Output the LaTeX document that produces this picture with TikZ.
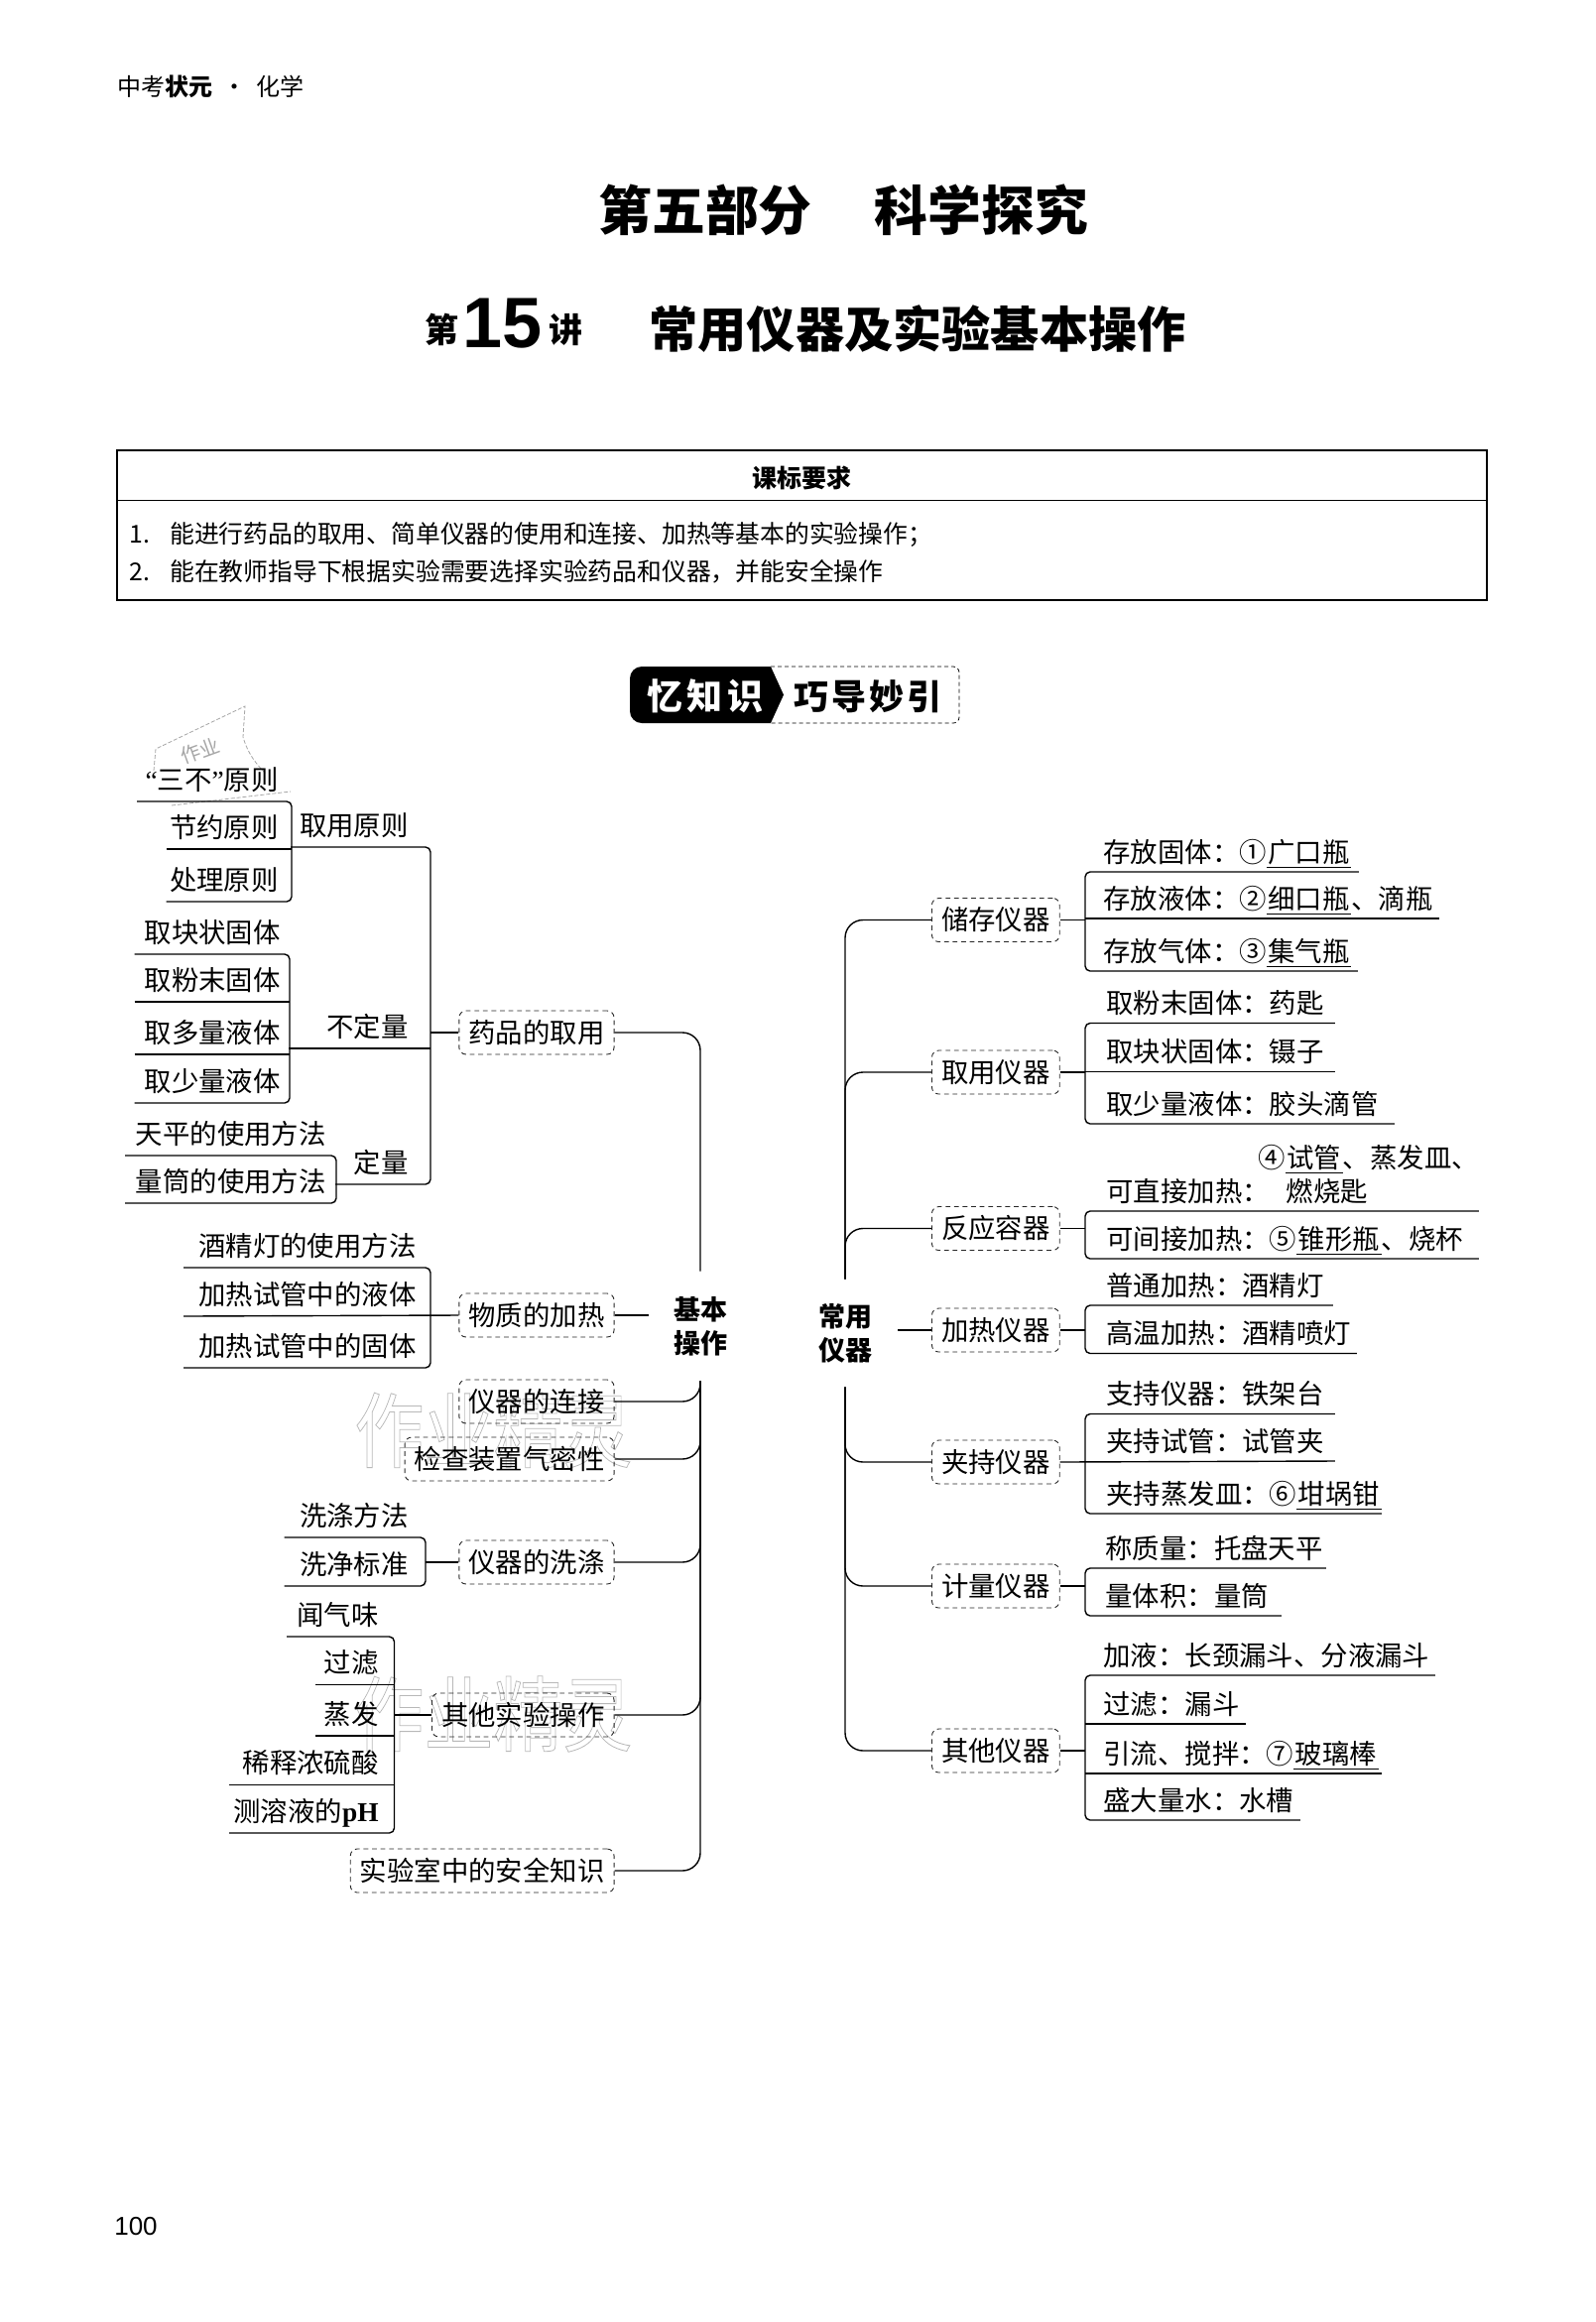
\documentclass[tikz,border=0pt]{standalone}
\usepackage{graphicx}
\usepackage{fontspec}
\setmainfont{Noto Sans CJK SC}
\newfontfamily\latinfont{Liberation Serif}
\newfontfamily\arialfont{Liberation Sans}
\newcommand{\fillin}[1]{$\underline{\hbox{\kern0.8pt #1\kern0.8pt}}$}
\newcommand{\bodysize}{\fontsize{13.7pt}{16pt}\selectfont}
\newcommand{\outlined}[1]{\special{pdf:code q 1 Tr 0.35 w 0.72 G}\scalebox{1}[1.18]{#1}\special{pdf:code Q}}

\begin{document}
\begin{tikzpicture}[
    x=0.5pt, y=-0.5pt,
    lrow/.style 2 args={anchor=south east, text width=\dimexpr #1pt/2\relax, inner sep=0pt, minimum height=22pt, align=right, font=\bodysize, text height=12pt, text depth=1.6pt, execute at end node={\hspace*{\dimexpr #2pt/2\relax}}},
    rrow/.style 2 args={anchor=south west, text width=\dimexpr #1pt/2\relax, inner sep=0pt, minimum height=20pt, align=left, font=\bodysize, text height=12pt, text depth=1.6pt, execute at begin node={\hspace*{\dimexpr #2pt/2\relax}}},
    opbox/.style={draw=black!85, line width=0.45pt, dash pattern=on 2.4pt off 1.9pt, rounded corners=3.5pt, minimum height=22pt, inner xsep=4.8pt, inner ysep=0pt, font=\bodysize, text height=12pt, text depth=1.6pt},
    headnode/.style={align=center, inner sep=0pt, font=\fontsize{13.5pt}{17pt}\selectfont\bfseries},
    rule/.style={line width=0.7pt},
    bracket/.style={line width=0.7pt, rounded corners=2.5pt},
    trunk/.style={line width=0.7pt, rounded corners=9pt},
    watermark/.style={inner sep=0pt, font=\fontsize{35pt}{40pt}\selectfont},
    stampline/.style={draw=black!35, line width=0.4pt, dash pattern=on 2pt off 1pt}
]
\useasboundingbox (0,0) rectangle (1609,2341);

% faint marks under the page
\node[watermark, anchor=west] (markone) at (357,1442) {\outlined{作业精灵}};
\node[watermark, anchor=west] (marktwo) at (357,1728) {\outlined{作业精灵}};
\draw[stampline] (155,777) -- (157,755) -- (247,712) -- (245,743) .. controls (250,760) and (258,770) .. (268,780);
\draw[stampline] (173,812) -- (293,798);
\node[color=black!35, rotate=20, inner sep=0pt, font=\fontsize{10pt}{11pt}\selectfont] (markthree) at (202,757) {作业};

% page head
\node[anchor=west, inner sep=0pt, font=\fontsize{12pt}{14pt}\selectfont] (series) at (118,87) {中考\textbf{状元}\hspace{5pt}·\hspace{5pt}化学};
\node[anchor=west, inner sep=0pt, font=\fontsize{26.9pt}{30pt}\selectfont\bfseries] (part) at (603,212) {第五部分\hspace{31.5pt}科学探究};
\node[anchor=base west, inner sep=0pt, font=\fontsize{17pt}{20pt}\selectfont\bfseries] (lesson) at (428,350.7) {\raisebox{2.7pt}{第}\kern2pt{\arialfont\fontsize{36pt}{40pt}\selectfont\bfseries 15}\kern3.5pt\raisebox{2.7pt}{讲}};
\node[anchor=west, inner sep=0pt, font=\fontsize{24.6pt}{28pt}\selectfont\bfseries] (lessontitle) at (654,332) {常用仪器及实验基本操作};

% requirement box
\node[draw, line width=1pt, minimum width=690.5pt, minimum height=75.5pt, inner sep=0pt] (req) at (808.5,529.5) {};
\node[anchor=north, minimum width=690.5pt, minimum height=25.5pt, inner sep=0pt, text height=13pt, text depth=0pt, font=\fontsize{12.5pt}{14pt}\selectfont\bfseries] (reqhead) at (req.north) {课标要求};
\draw[line width=0.45pt] (reqhead.south west) -- (reqhead.south east);
\node[anchor=west, inner sep=0pt, font=\fontsize{12.4pt}{14pt}\selectfont] (reqone) at (130,539) {\makebox[20.5pt][l]{1.}能进行药品的取用、简单仪器的使用和连接、加热等基本的实验操作；};
\node[anchor=west, inner sep=0pt, font=\fontsize{12.4pt}{14pt}\selectfont] (reqtwo) at (130,576) {\makebox[20.5pt][l]{2.}能在教师指导下根据实验需要选择实验药品和仪器，并能安全操作};

% badge
\fill[black] (777,672) -- (790,700.5) -- (777,729) [rounded corners=6pt] -- (635,729) -- (635,672) [sharp corners] -- cycle;
\draw[line width=0.4pt, dash pattern=on 2pt off 1.5pt, rounded corners=3pt] (777,672) -- (967,672) -- (967,729) -- (777,729);
\node[color=white, inner sep=0pt, font=\fontsize{18pt}{20pt}\selectfont\bfseries\addfontfeature{LetterSpace=13}] (badgeleft) at (711,702) {忆知识};
\node[inner sep=0pt, font=\fontsize{17.5pt}{20pt}\selectfont\bfseries\addfontfeature{LetterSpace=8}] (badgeright) at (875,702) {巧导妙引};

% left tree
\node[headnode, minimum width=52pt, minimum height=55pt] (jiben) at (706,1337) {基本\\操作};
\node[opbox, anchor=east] (yaopin) at (619.5,1041) {药品的取用};
\node[opbox, anchor=east] (jiare) at (619.5,1326) {物质的加热};
\node[opbox, anchor=east] (lianjie) at (619.5,1413) {仪器的连接};
\node[opbox, anchor=east] (qimi) at (619.5,1471) {检查装置气密性};
\node[opbox, anchor=east] (xidi) at (619.5,1575) {仪器的洗涤};
\node[opbox, anchor=east] (qita) at (619.5,1729) {其他实验操作};
\node[opbox, anchor=east] (anquan) at (619.5,1886) {实验室中的安全知识};
\draw[trunk] (yaopin.east) -| (jiben.north);
\draw[rule] (jiare.east) -- (jiare.east -| jiben.west);
\draw[trunk] (lianjie.east) -| (jiben.south);
\draw[trunk] (qimi.east) -| (jiben.south);
\draw[trunk] (xidi.east) -| (jiben.south);
\draw[trunk] (qita.east) -| (jiben.south);
\draw[trunk] (anquan.east) -| (jiben.south);

\node[lrow={140}{22}] (quyong) at (434,854) {取用原则};
\node[lrow={142}{22}] (buding) at (434,1057) {不定量};
\node[lrow={95}{22}] (dingliang) at (434,1194) {定量};
\draw[bracket] (quyong.south west) -- (quyong.south east) -- (dingliang.south east) -- (dingliang.south west);
\draw[rule] (buding.south west) -- (buding.south east);
\draw[rule] (yaopin.west) -- (yaopin.west -| quyong.south east);

\node[lrow={155}{13}] (sanbu) at (294,808) {{\latinfont “}三不{\latinfont ”}原则};
\node[lrow={125.5}{13}] (jieyue) at (294,856) {节约原则};
\node[lrow={125.5}{13}] (chuli) at (294,909) {处理原则};
\draw[bracket] (sanbu.south west) -- (sanbu.south east) -- (chuli.south east) -- (chuli.south west);
\draw[rule] (jieyue.south west) -- (jieyue.south east);

\node[lrow={155.5}{9}] (kuai) at (292,962) {取块状固体};
\node[lrow={155.5}{9}] (fen) at (292,1010) {取粉末固体};
\node[lrow={155.5}{9}] (duo) at (292,1063) {取多量液体};
\node[lrow={155.5}{9}] (shao) at (292,1112) {取少量液体};
\draw[bracket] (kuai.south west) -- (kuai.south east) -- (shao.south east) -- (shao.south west);
\draw[rule] (fen.south west) -- (fen.south east);
\draw[rule] (duo.south west) -- (duo.south east);

\node[lrow={212}{10}] (tianping) at (339,1165) {天平的使用方法};
\node[lrow={212}{10}] (liangtong) at (339,1213) {量筒的使用方法};
\draw[bracket] (tianping.south west) -- (tianping.south east) -- (liangtong.south east) -- (liangtong.south west);

\node[lrow={248}{14}] (deng) at (434,1278) {酒精灯的使用方法};
\node[lrow={248}{14}] (yeti) at (434,1327) {加热试管中的液体};
\node[lrow={248}{14}] (guti) at (434,1379) {加热试管中的固体};
\draw[bracket] (deng.south west) -- (deng.south east) -- (guti.south east) -- (guti.south west);
\draw[rule] (yeti.south west) -- (jiare.west);

\node[lrow={141.5}{17}] (fangfa) at (429,1550) {洗涤方法};
\node[lrow={141.5}{17}] (biaozhun) at (429,1599) {洗净标准};
\draw[bracket] (fangfa.south west) -- (fangfa.south east) -- (biaozhun.south east) -- (biaozhun.south west);
\draw[rule] (xidi.west) -- (xidi.west -| fangfa.south east);

\node[lrow={107.5}{15.5}] (wen) at (397.5,1650) {闻气味};
\node[lrow={78.8}{15.5}] (guolv) at (397.5,1698.5) {过滤};
\node[lrow={78.8}{15.5}] (zhengfa) at (397.5,1750) {蒸发};
\node[lrow={165.5}{15.5}] (xishi) at (397.5,1799.5) {稀释浓硫酸};
\node[lrow={165.5}{15.5}] (ceph) at (397.5,1848) {测溶液的{\latinfont\bfseries pH}};
\draw[bracket] (wen.south west) -- (wen.south east) -- (ceph.south east) -- (ceph.south west);
\draw[rule] (guolv.south west) -- (guolv.south east);
\draw[rule] (zhengfa.south west) -- (zhengfa.south east);
\draw[rule] (xishi.south west) -- (xishi.south east);
\draw[rule] (qita.west) -- (qita.west -| wen.south east);

% right tree
\node[headnode, minimum width=53pt, minimum height=54pt] (changyong) at (852,1344) {常用\\仪器};
\node[opbox, anchor=west] (chucun) at (939,927.5) {储存仪器};
\node[opbox, anchor=west] (quyongyi) at (939,1081) {取用仪器};
\node[opbox, anchor=west] (fanying) at (939,1238.5) {反应容器};
\node[opbox, anchor=west] (jiareyi) at (939,1341) {加热仪器};
\node[opbox, anchor=west] (jiachi) at (939,1474) {夹持仪器};
\node[opbox, anchor=west] (jiliang) at (939,1599) {计量仪器};
\node[opbox, anchor=west] (qitayi) at (939,1765) {其他仪器};
\draw[trunk] (chucun.west) -| (changyong.north);
\draw[trunk] (quyongyi.west) -| (changyong.north);
\draw[trunk] (fanying.west) -| (changyong.north);
\draw[rule] (jiareyi.west -| changyong.east) -- (jiareyi.west);
\draw[trunk] (jiachi.west) -| (changyong.south);
\draw[trunk] (jiliang.west) -| (changyong.south);
\draw[trunk] (qitayi.west) -| (changyong.south);

\node[rrow={275}{18}] (cunone) at (1094,879) {存放固体：①\fillin{广口瓶}};
\node[rrow={356}{18}] (cuntwo) at (1094,926) {存放液体：②\fillin{细口瓶}、滴瓶};
\node[rrow={274}{18}] (cunthree) at (1094,979) {存放气体：③\fillin{集气瓶}};
\draw[bracket] (cunone.south east) -- (cunone.south west) -- (cunthree.south west) -- (cunthree.south east);
\draw[rule] (cuntwo.south west) -- (cuntwo.south east);
\draw[rule] (chucun.east) -- (chucun.east -| cunone.south west);

\node[rrow={251}{21}] (quone) at (1094,1031.5) {取粉末固体：药匙};
\node[rrow={251}{21}] (qutwo) at (1094,1080.5) {取块状固体：镊子};
\node[rrow={311}{21}] (quthree) at (1094,1133) {取少量液体：胶头滴管};
\draw[bracket] (quone.south east) -- (quone.south west) -- (quthree.south west) -- (quthree.south east);
\draw[rule] (qutwo.south west) -- (qutwo.south east);
\draw[rule] (quyongyi.east) -- (quyongyi.east -| quone.south west);

\node[anchor=west, inner sep=0pt, font=\bodysize] (fanup) at (1268,1169) {④\fillin{试管}、蒸发皿、};
\node[rrow={396}{21}] (fanone) at (1094,1221) {可直接加热：\hspace{8.5pt}燃烧匙};
\node[rrow={396}{21}] (fantwo) at (1094,1269) {可间接加热：⑤\fillin{锥形瓶}、烧杯};
\draw[bracket] (fanone.south east) -- (fanone.south west) -- (fantwo.south west) -- (fantwo.south east);
\draw[rule] (fanying.east) -- (fanying.east -| fanone.south west);

\node[rrow={249}{21}] (reone) at (1094,1316) {普通加热：酒精灯};
\node[rrow={273}{21}] (retwo) at (1094,1364.5) {高温加热：酒精喷灯};
\draw[bracket] (reone.south east) -- (reone.south west) -- (retwo.south west) -- (retwo.south east);
\draw[rule] (jiareyi.east) -- (jiareyi.east -| reone.south west);

\node[rrow={251}{21}] (jiaone) at (1094,1425.5) {支持仪器：铁架台};
\node[rrow={251}{21}] (jiatwo) at (1094,1473) {夹持试管：试管夹};
\node[rrow={298}{21}] (jiathree) at (1094,1526) {夹持蒸发皿：⑥\fillin{坩埚钳}};
\draw[bracket] (jiaone.south east) -- (jiaone.south west) -- (jiathree.south west) -- (jiathree.south east);
\draw[rule] (jiachi.east) -- (jiatwo.south east);

\node[rrow={242}{20}] (jione) at (1094,1581) {称质量：托盘天平};
\node[rrow={197}{20}] (jitwo) at (1094,1629) {量体积：量筒};
\draw[bracket] (jione.south east) -- (jione.south west) -- (jitwo.south west) -- (jitwo.south east);
\draw[rule] (jiliang.east) -- (jiliang.east -| jione.south west);

\node[rrow={352}{18}] (qione) at (1094,1689) {加液：长颈漏斗、分液漏斗};
\node[rrow={161.5}{18}] (qitwo) at (1094,1738) {过滤：漏斗};
\node[rrow={298}{18}] (qithree) at (1094,1788) {引流、搅拌：⑦\fillin{玻璃棒}};
\node[rrow={216}{18}] (qifour) at (1094,1835) {盛大量水：水槽};
\draw[bracket] (qione.south east) -- (qione.south west) -- (qifour.south west) -- (qifour.south east);
\draw[rule] (qitwo.south west) -- (qitwo.south east);
\draw[rule] (qithree.south west) -- (qithree.south east);
\draw[rule] (qitayi.east) -- (qitayi.east -| qione.south west);

% page number
\node[inner sep=0pt, font=\arialfont\fontsize{13pt}{15pt}\selectfont] (pageno) at (137,2245) {100};
\end{tikzpicture}
\end{document}
